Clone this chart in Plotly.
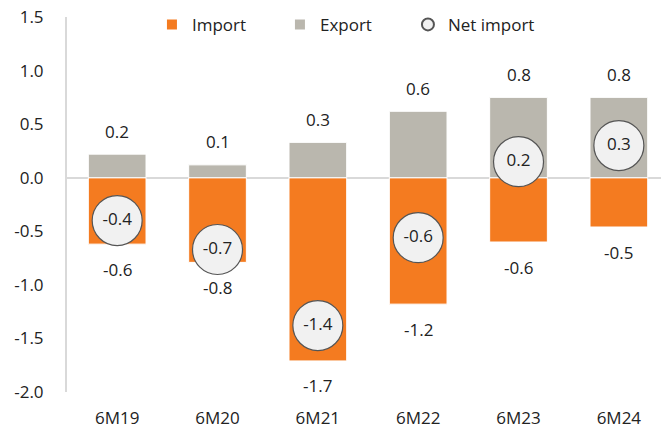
import plotly.graph_objects as go

periods = ["6M19", "6M20", "6M21", "6M22", "6M23", "6M24"]
imports = [-0.62, -0.79, -1.71, -1.18, -0.60, -0.46]
exports = [0.22, 0.12, 0.33, 0.62, 0.75, 0.75]
net_import = [-0.40, -0.67, -1.38, -0.56, 0.15, 0.30]
net_labels = ["-0.4", "-0.7", "-1.4", "-0.6", "0.2", "0.3"]
y_ticks = [-2.0, -1.5, -1.0, -0.5, 0.0, 0.5, 1.0, 1.5]
y_ticktext = ["-2.0", "-1.5", "-1.0", "-0.5", "0.0", "0.5", "1.0", "1.5"]

FONT = "Open Sans"
TXT = "#222222"

fig = go.Figure()
fig.add_trace(go.Bar(x=periods, y=imports, name="Import", marker_color="#F47B20",
                     marker_line_color="white", marker_line_width=1, width=0.575))
fig.add_trace(go.Bar(x=periods, y=exports, name="Export", marker_color="#BAB7AE",
                     marker_line_color="white", marker_line_width=1, width=0.575))
fig.add_trace(go.Scatter(x=periods, y=net_import, name="Net import", mode="markers+text",
                         marker=dict(size=50, color="#F1F1F1", line=dict(color="#555555", width=1.2)),
                         text=net_labels, textposition="middle center",
                         textfont=dict(size=17, color=TXT, family=FONT)))

# value labels above export bars / below import bars
for p, v in zip(periods, exports):
    fig.add_annotation(x=p, y=v, text=f"{v:.1f}", showarrow=False, yshift=23,
                       font=dict(size=17, color=TXT, family=FONT))
for p, v in zip(periods, imports):
    fig.add_annotation(x=p, y=v, text=f"{v:.1f}", showarrow=False, yshift=-25,
                       font=dict(size=17, color=TXT, family=FONT))

fig.update_layout(
    width=662, height=430,
    barmode="relative",
    plot_bgcolor="white", paper_bgcolor="white",
    margin=dict(l=67, r=1, t=17, b=38, autoexpand=False),
    font=dict(family=FONT, size=17, color=TXT),
    showlegend=True,
    legend=dict(orientation="h", x=0.143, xanchor="left", y=0.979, yanchor="middle",
                font=dict(size=17), itemsizing="constant", entrywidth=83,
                bgcolor="rgba(0,0,0,0)"),
    xaxis=dict(range=[-0.5, 5.42], showgrid=False, showline=False, zeroline=False,
               ticks="", ticklabelstandoff=14, tickfont=dict(size=17)),
    yaxis=dict(range=[-2, 1.5], tickvals=y_ticks, ticktext=y_ticktext, showgrid=False,
               showline=True, linecolor="#D9D9D9", linewidth=2,
               zeroline=True, zerolinecolor="#D9D9D9", zerolinewidth=2,
               ticks="", ticklabelstandoff=18, tickfont=dict(size=17)),
)

fig.write_html("out.html", config={"displayModeBar": False},
               post_script="document.body.style.margin='0';")
